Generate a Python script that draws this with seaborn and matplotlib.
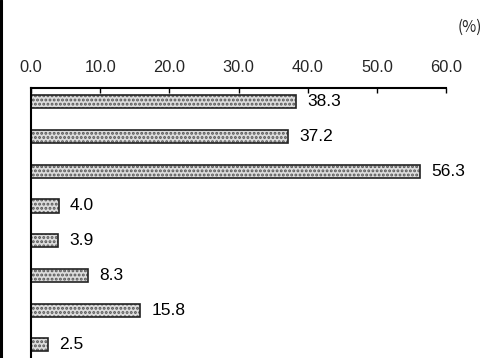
import matplotlib
matplotlib.use("Agg")
import matplotlib.pyplot as plt
import seaborn as sns
import pandas as pd

items = ["1", "2", "3", "4", "5", "6", "7", "8"]
values = [38.3, 37.2, 56.3, 4.0, 3.9, 8.3, 15.8, 2.5]
xticks = [0, 10, 20, 30, 40, 50, 60]
xtick_labels = ["0.0", "10.0", "20.0", "30.0", "40.0", "50.0", "60.0"]

sns.set_theme(style="white")
plt.rcParams["font.family"] = ["Liberation Sans", "DejaVu Sans"]
plt.rcParams["hatch.linewidth"] = 1.4

df = pd.DataFrame({"item": items, "value": values})

fig = plt.figure(figsize=(4.92, 3.58), dpi=100)
ax = fig.add_axes([31 / 492, 0.0, (446 - 31) / 492, 1 - 88 / 358])

# dotted fill layer
sns.barplot(data=df, x="value", y="item", orient="h", ax=ax, width=0.38,
            color="#dcdcdc", saturation=1, linewidth=0)
for p in ax.patches:
    p.set_hatch("....")
    p.set_edgecolor("#555555")
    p.set_linewidth(0)
# outline layer
sns.barplot(data=df, x="value", y="item", orient="h", ax=ax, width=0.38,
            fill=False, color="black", saturation=1, linewidth=1.2)
for p in ax.patches[len(items):]:
    p.set_edgecolor("#222222")
    p.set_facecolor("none")

for i, v in enumerate(values):
    ax.text(v + 1.6, i, f"{v:.1f}", va="center", ha="left", fontsize=12.5, color="black")

ax.set_xlim(0, 60)
ax.set_ylim(7.38, -0.40)
ax.xaxis.tick_top()
ax.set_xticks(xticks)
ax.set_xticklabels(xtick_labels, fontsize=11.8)
ax.tick_params(axis="x", direction="in", length=3.5, width=1, color="black", pad=9)
ax.set_yticks([])
ax.set_xlabel("")
ax.set_ylabel("")
for side in ["right", "bottom"]:
    ax.spines[side].set_visible(False)
for side in ["top", "left"]:
    ax.spines[side].set_visible(True)
    ax.spines[side].set_color("black")
    ax.spines[side].set_linewidth(1.5)

fig.text(470 / 492, 1 - 27 / 358, "(%)", ha="center", va="center", fontsize=11,
         family=["Noto Sans CJK JP", "DejaVu Sans"])
# frame line along the left edge
fig.add_artist(plt.Line2D([1.2 / 492, 1.2 / 492], [0, 1], color="black", linewidth=2.2,
                          transform=fig.transFigure))

fig.savefig("out.png", dpi=100)
